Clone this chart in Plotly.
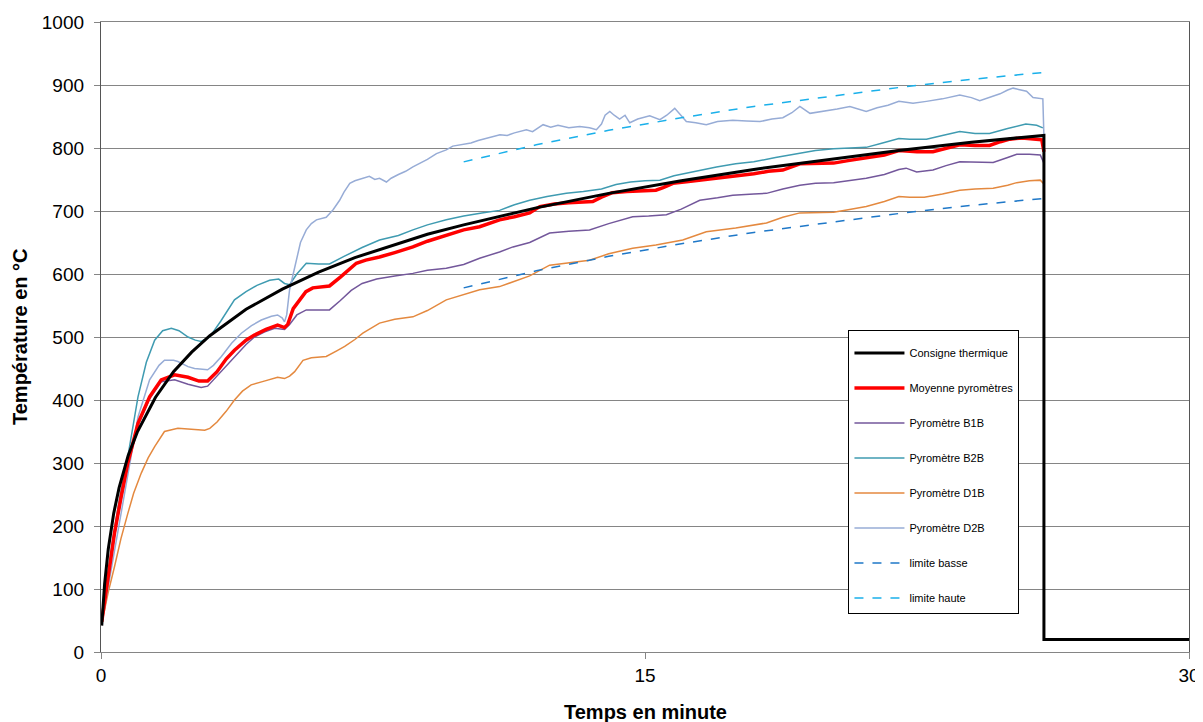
import plotly.graph_objects as go

# ---------------- data ----------------
t_consigne = [0.02, 0.1, 0.2, 0.35, 0.5, 0.75, 1, 1.5, 2, 2.5, 3, 4, 5, 6, 7, 8, 9, 10,
              12, 14, 16, 18, 20, 22, 24, 26, 26, 30]
v_consigne = [42, 108, 163, 220, 261, 312, 349, 404, 445, 476, 502, 544, 576, 603, 626, 645,
              663, 678, 705, 728, 748, 766, 781, 796, 809, 820, 20, 20]

t_moy = [0.02, 0.2, 0.37, 0.55, 0.74, 1.02, 1.34, 1.66, 2.03, 2.4, 2.7, 2.94, 3.2, 3.45, 3.68,
         4.0, 4.23, 4.55, 4.87, 5.06, 5.15, 5.3, 5.48, 5.65, 5.84, 6.1, 6.3, 6.6, 7.04, 7.3,
         7.68, 8.1, 8.6, 9.0, 9.52, 10.0, 10.44, 10.99, 11.4, 11.82, 12.1, 12.5, 12.9, 13.3,
         13.56, 13.8, 14.1, 14.5, 15.0, 15.3, 15.5, 15.77, 16.2, 16.8, 17.42, 18.0, 18.4,
         18.8, 19.27, 19.7, 20.2, 20.6, 21.1, 21.6, 22.0, 22.5, 22.94, 23.3, 23.68, 24.1,
         24.5, 24.8, 25.06, 25.4, 25.7, 25.94, 26.0]
v_moy = [48, 120, 188, 245, 300, 363, 405, 432, 440, 436, 430, 430, 445, 465, 479,
         495, 503, 512, 519, 515, 520, 545, 559, 572, 578, 579, 581, 595, 617, 622,
         627, 634, 643, 652, 662, 670, 675, 686, 691, 697, 707, 711, 713, 714,
         715, 722, 729, 731, 732, 733, 737, 744, 747, 751, 754, 759, 763,
         765, 775, 775, 776, 780, 784, 789, 796, 794, 794, 800, 805, 804,
         804, 810, 814, 816, 814, 813, 794]

t_b1b = [0.02, 0.2, 0.37, 0.55, 0.74, 1.02, 1.34, 1.66, 2.03, 2.4, 2.76, 2.94, 3.2, 3.45, 3.68,
         4.0, 4.23, 4.5, 4.79, 5.06, 5.2, 5.4, 5.66, 6.0, 6.3, 6.6, 6.9, 7.2, 7.6, 8.1, 8.6,
         9.0, 9.52, 10.0, 10.44, 10.99, 11.36, 11.82, 12.37, 12.9, 13.47, 14.0, 14.66, 15.1,
         15.59, 16.0, 16.51, 17.0, 17.42, 18.0, 18.35, 18.8, 19.27, 19.7, 20.2, 20.6, 21.1,
         21.6, 22.0, 22.2, 22.49, 22.94, 23.3, 23.68, 24.1, 24.6, 25.0, 25.25, 25.6, 25.9, 26.0]
v_b1b = [45, 115, 183, 240, 296, 360, 402, 429, 432, 425, 420, 422, 438, 455, 469,
         488, 500, 508, 514, 512, 520, 535, 543, 543, 543, 558, 574, 585, 592, 597, 601,
         606, 609, 615, 625, 635, 643, 650, 665, 668, 670, 680, 691, 692,
         694, 703, 717, 721, 725, 727, 728, 735, 741, 744, 745, 748, 752,
         758, 766, 768, 762, 765, 772, 778, 777, 777, 785, 790, 790, 789, 776]

t_b2b = [0.02, 0.3, 0.5, 0.74, 1.02, 1.25, 1.48, 1.7, 1.94, 2.15, 2.4, 2.6, 2.76, 3.0, 3.3,
         3.68, 4.0, 4.3, 4.65, 4.9, 5.06, 5.2, 5.4, 5.66, 6.0, 6.3, 6.7, 7.2, 7.68, 8.2, 8.6,
         9.0, 9.52, 10.0, 10.5, 10.99, 11.4, 11.82, 12.3, 12.83, 13.3, 13.8, 14.2, 14.6,
         15.0, 15.41, 15.8, 16.3, 16.97, 17.5, 18.0, 18.6, 19.27, 19.7, 20.2, 20.6, 21.1,
         21.5, 22.0, 22.3, 22.76, 23.2, 23.68, 24.1, 24.5, 25.0, 25.5, 25.8, 25.97]
v_b2b = [50, 170, 240, 310, 405, 460, 495, 510, 514, 510, 500, 495, 493, 500, 525,
         559, 572, 582, 590, 592, 585, 583, 600, 617, 616, 616, 628, 642, 654, 661, 670,
         678, 686, 692, 697, 701, 710, 717, 723, 728, 731, 735, 742, 746,
         748, 749, 756, 762, 770, 775, 778, 785, 791, 796, 799, 800, 801,
         807, 815, 814, 814, 820, 826, 823, 823, 831, 838, 836, 832]

t_d1b = [0.02, 0.2, 0.37, 0.55, 0.74, 0.9, 1.11, 1.3, 1.48, 1.75, 2.12, 2.5, 2.86, 3.0, 3.2,
         3.45, 3.68, 3.9, 4.14, 4.5, 4.87, 5.06, 5.2, 5.34, 5.57, 5.8, 6.21, 6.5, 6.72, 7.0,
         7.22, 7.68, 8.1, 8.6, 9.0, 9.52, 10.0, 10.44, 10.99, 11.4, 11.82, 12.37, 12.9, 13.47,
         14.0, 14.66, 15.3, 16.04, 16.69, 17.5, 18.35, 18.8, 19.27, 19.7, 20.2, 20.6, 21.1,
         21.6, 22.0, 22.3, 22.7, 23.2, 23.68, 24.1, 24.6, 25.0, 25.25, 25.6, 25.9, 26.0]
v_d1b = [45, 95, 135, 180, 220, 252, 284, 308, 326, 350, 355, 354, 352, 355, 365,
         382, 400, 414, 424, 430, 436, 434, 438, 445, 463, 467, 469, 478, 485, 496,
         506, 522, 528, 532, 542, 559, 568, 575, 580, 589, 597, 614, 618, 622,
         632, 641, 646, 654, 667, 673, 681, 690, 697, 697, 698, 702, 707,
         715, 723, 722, 722, 727, 733, 735, 736, 741, 745, 748, 749, 743]

t_d2b = [0.02, 0.25, 0.46, 0.74, 1.02, 1.34, 1.6, 1.75, 2.0, 2.12, 2.4, 2.58, 2.94, 3.1, 3.32,
         3.6, 3.87, 4.15, 4.42, 4.7, 4.87, 5.0, 5.06, 5.12, 5.2, 5.3, 5.38, 5.5, 5.66, 5.8,
         5.94, 6.1, 6.21, 6.4, 6.58, 6.7, 6.86, 7.0, 7.22, 7.4, 7.55, 7.68, 7.87, 8.0, 8.2,
         8.4, 8.6, 8.8, 9.0, 9.25, 9.52, 9.7, 10.0, 10.2, 10.4, 10.6, 10.8, 11.0, 11.2, 11.4,
         11.73, 11.9, 12.19, 12.4, 12.6, 12.9, 13.2, 13.47, 13.66, 13.8, 13.9, 14.03, 14.15,
         14.3, 14.45, 14.58, 14.8, 15.13, 15.41, 15.6, 15.82, 16.0, 16.14, 16.4, 16.69, 17.0,
         17.42, 17.8, 18.17, 18.5, 18.8, 19.05, 19.27, 19.55, 19.9, 20.3, 20.65, 20.9, 21.1,
         21.4, 21.7, 22.0, 22.39, 22.76, 23.2, 23.68, 24.0, 24.23, 24.5, 24.79, 25.0, 25.15,
         25.3, 25.52, 25.7, 25.97, 26.0]
v_d2b = [45, 120, 188, 284, 373, 432, 455, 463, 463, 461, 453, 450, 448, 455, 469,
         490, 506, 518, 527, 533, 535, 530, 524, 535, 575, 600, 622, 650, 670, 680,
         686, 688, 690, 702, 717, 730, 744, 748, 752, 755, 750, 752, 746, 752, 758,
         763, 770, 776, 782, 791, 797, 803, 806, 808, 812, 815, 818, 821, 820, 824,
         829, 826, 837, 833, 836, 832, 834, 832, 829, 838, 852, 858, 852,
         846, 852, 840, 846, 851, 845, 852, 863, 852, 842, 840, 837, 842,
         844, 843, 842, 846, 848, 856, 866, 855, 858, 862, 866, 862, 858,
         864, 868, 874, 871, 874, 878, 884, 880, 875, 880, 886, 892, 895,
         893, 890, 880, 878, 818]

t_limite = [10, 12, 14, 16, 18, 20, 22, 24, 26]
v_basse = [578, 605, 628, 648, 666, 681, 696, 709, 720]
v_haute = [778, 805, 828, 848, 866, 881, 896, 909, 920]

x_ticks = [0, 15, 30]
y_ticks = list(range(0, 1001, 100))

# ---------------- figure ----------------
fig = go.Figure()

def add(name, x, y, color, width, dash="solid", rank=1):
    fig.add_trace(go.Scatter(x=x, y=y, mode="lines", name=name,
                             line=dict(color=color, width=width, dash=dash),
                             legendgroup=name, legendrank=rank))

add("Pyromètre B1B", t_b1b, v_b1b, "#73579b", 1.5, rank=3)
add("Pyromètre B2B", t_b2b, v_b2b, "#3f9bb1", 1.5, rank=4)
add("Pyromètre D1B", t_d1b, v_d1b, "#e4893f", 1.5, rank=5)
add("Pyromètre D2B", t_d2b, v_d2b, "#97acd6", 1.5, rank=6)
add("limite basse", t_limite, v_basse, "#1f78c8", 1.5, dash="dash", rank=7)
add("limite haute", t_limite, v_haute, "#1ab0ea", 1.5, dash="dash", rank=8)
add("Moyenne pyromètres", t_moy, v_moy, "#ff0000", 3.5, rank=2)
add("Consigne thermique", t_consigne, v_consigne, "#000000", 3, rank=1)

grid = "#858585"
# the page shows the figure with an 8 px offset, so the figure is 8 px smaller
fig.update_layout(
    width=1195, height=714,
    margin=dict(l=93, r=14, t=14, b=70, autoexpand=False),
    paper_bgcolor="white", plot_bgcolor="white",
    font=dict(family="Liberation Sans, Arial", size=18, color="#000"),
    showlegend=True,
    legend=dict(x=0.687, y=0.5115, xanchor="left", yanchor="top",
                bgcolor="white", bordercolor="#000", borderwidth=1,
                font=dict(size=11, family="Liberation Sans, Arial"),
                title=dict(text=" ", font=dict(size=6)),
                itemwidth=50,
                tracegroupgap=16, traceorder="grouped"),
    xaxis=dict(range=[0, 30], tickvals=x_ticks, ticktext=[str(v) for v in x_ticks],
               showgrid=False, zeroline=False, showline=True, linecolor=grid, linewidth=1.3,
               mirror=True, ticks="outside", ticklen=6, tickcolor=grid,
               tickfont=dict(size=19), automargin=False),
    yaxis=dict(range=[0, 1000], tickvals=y_ticks, showgrid=True, gridcolor=grid, gridwidth=1.3,
               zeroline=False, showline=True, linecolor="#555", linewidth=1.3, mirror=True,
               ticks="outside", ticklen=6, tickcolor=grid, tickfont=dict(size=19),
               ticklabelstandoff=6, automargin=False),
    annotations=[
        dict(text="<b>Temps en minute</b>", xref="paper", yref="paper", x=0.5, y=0,
             xanchor="center", yanchor="middle", yshift=-60, showarrow=False,
             font=dict(size=20)),
        dict(text="<b>Température en °C</b>", xref="paper", yref="paper", x=0, y=0.5,
             xanchor="center", yanchor="middle", xshift=-81, textangle=-90, showarrow=False,
             font=dict(size=20)),
    ],
)

fig.write_html("out.html")
